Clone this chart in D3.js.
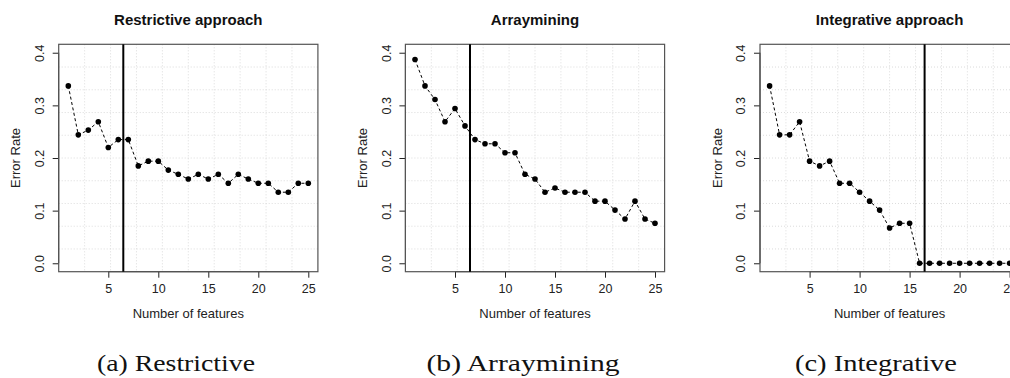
<!DOCTYPE html>
<html><head><meta charset="utf-8">
<script src="https://cdn.jsdelivr.net/npm/d3@7"></script>
<style>body{margin:0;background:#fff;} svg{display:block;}</style>
</head><body>
<script>
// ---- data ----
const features = d3.range(1, 26);
const restrictive = [0.337,0.244,0.253,0.269,0.220,0.235,0.235,0.185,0.194,0.194,0.177,0.169,0.160,0.169,0.160,0.169,0.152,0.169,0.160,0.152,0.152,0.135,0.135,0.152,0.152];
const arraymining = [0.387,0.337,0.311,0.269,0.294,0.261,0.235,0.227,0.227,0.210,0.210,0.169,0.160,0.135,0.143,0.135,0.135,0.135,0.118,0.118,0.101,0.084,0.118,0.084,0.076];
const integrative = [0.337,0.244,0.244,0.269,0.194,0.185,0.194,0.152,0.152,0.135,0.118,0.101,0.067,0.076,0.076,0,0,0,0,0,0,0,0,0,0];
const titles = ["Restrictive approach", "Arraymining", "Integrative approach"];
const captions = ["(a) Restrictive", "(b) Arraymining", "(c) Integrative"];
const cutoffs = [6.5, 6.5, 16.5];
const xTicks = [5, 10, 15, 20, 25];
const yTicks = [0.0, 0.1, 0.2, 0.3, 0.4];
const xLabel = "Number of features";
const yLabel = "Error Rate";

// ---- layout ----
const W = 1010, H = 378;
const lefts = [58.7, 405.4, 760.0];
const boxW = 259.2, boxTop = 44.3, boxBottom = 271.7;
const captionCenters = [176, 523, 876];
const captionWidths = [158, 193, 162];
const series = [restrictive, arraymining, integrative];
const SANS = "'Liberation Sans', Arial, Helvetica, sans-serif";

const svg = d3.select("body").append("svg").attr("width", W).attr("height", H)
  .style("font-family", SANS);

series.forEach((vals, i) => {
  const L = lefts[i];
  const x = d3.scaleLinear().domain([0.04, 25.96]).range([L, L + boxW]);
  const y = d3.scaleLinear().domain([-0.016, 0.416]).range([boxBottom, boxTop]);
  const g = svg.append("g");

  // grid (10 equal divisions of the plotting region)
  const gx = d3.range(1, 10).map(k => 0.04 + k * (25.92 / 10));
  const gy = d3.range(1, 10).map(k => -0.016 + k * (0.432 / 10));
  g.selectAll(".gx").data(gx).join("line")
    .attr("x1", d => x(d)).attr("x2", d => x(d)).attr("y1", boxTop).attr("y2", boxBottom)
    .attr("stroke", "#d3d3d3").attr("stroke-width", 0.8).attr("stroke-dasharray", "1,2");
  g.selectAll(".gy").data(gy).join("line")
    .attr("y1", d => y(d)).attr("y2", d => y(d)).attr("x1", L).attr("x2", L + boxW)
    .attr("stroke", "#d3d3d3").attr("stroke-width", 0.8).attr("stroke-dasharray", "1,2");

  // axes
  const xa = g.append("g").attr("transform", `translate(0,${boxBottom})`)
    .call(d3.axisBottom(x).tickValues(xTicks).tickSize(6).tickPadding(6).tickFormat(d3.format("d")));
  xa.attr("font-family", SANS);
  xa.select(".domain").attr("d", `M${x(xTicks[0])},0H${x(xTicks[xTicks.length-1])}`).attr("stroke", "#222");
  xa.selectAll(".tick line").attr("stroke", "#222");
  xa.selectAll("text").attr("font-size", "12.5px").attr("fill", "#222");

  const ya = g.append("g").attr("transform", `translate(${L},0)`)
    .call(d3.axisLeft(y).tickValues(yTicks).tickSize(6).tickFormat(d3.format(".1f")));
  ya.attr("font-family", SANS);
  ya.select(".domain").attr("d", `M0,${y(yTicks[0])}V${y(yTicks[yTicks.length-1])}`).attr("stroke", "#222");
  ya.selectAll(".tick line").attr("stroke", "#222");
  ya.selectAll(".tick text")
    .attr("font-size", "12.5px").attr("fill", "#222")
    .attr("x", 0).attr("text-anchor", "middle").attr("dy", "0.35em")
    .attr("transform", "translate(-19,0) rotate(-90)");

  // box
  g.append("rect").attr("x", L).attr("y", boxTop).attr("width", boxW).attr("height", boxBottom - boxTop)
    .attr("fill", "none").attr("stroke", "#555").attr("stroke-width", 1.2);

  // cutoff line
  g.append("line").attr("x1", x(cutoffs[i])).attr("x2", x(cutoffs[i])).attr("y1", boxTop).attr("y2", boxBottom)
    .attr("stroke", "#000").attr("stroke-width", 2);

  // dashed line + points
  const data = features.map((f, j) => [f, vals[j]]);
  g.append("path").datum(data)
    .attr("d", d3.line().x(d => x(d[0])).y(d => y(d[1])))
    .attr("fill", "none").attr("stroke", "#000").attr("stroke-width", 1).attr("stroke-dasharray", "3,2.5");
  g.selectAll(".pt").data(data).join("circle")
    .attr("cx", d => x(d[0])).attr("cy", d => y(d[1])).attr("r", 2.8).attr("fill", "#000");

  // titles & labels
  g.append("text").attr("x", L + boxW / 2).attr("y", 25).attr("text-anchor", "middle")
    .attr("font-weight", "bold").attr("font-size", "15px").attr("fill", "#111").text(titles[i]);
  g.append("text").attr("x", L + boxW / 2).attr("y", 318).attr("text-anchor", "middle")
    .attr("font-size", "13px").attr("fill", "#222").text(xLabel);
  g.append("text").attr("transform", `translate(${L - 38.5},${(boxTop + boxBottom) / 2}) rotate(-90)`)
    .attr("text-anchor", "middle").attr("font-size", "13px").attr("fill", "#222").text(yLabel);

  // caption
  svg.append("text").attr("x", captionCenters[i] - captionWidths[i] / 2).attr("y", 371)
    .attr("font-family", "'Liberation Serif', 'DejaVu Serif', serif").attr("font-size", "23px")
    .attr("textLength", captionWidths[i]).attr("lengthAdjust", "spacingAndGlyphs")
    .attr("fill", "#111").text(captions[i]);
});
</script>
</body></html>
